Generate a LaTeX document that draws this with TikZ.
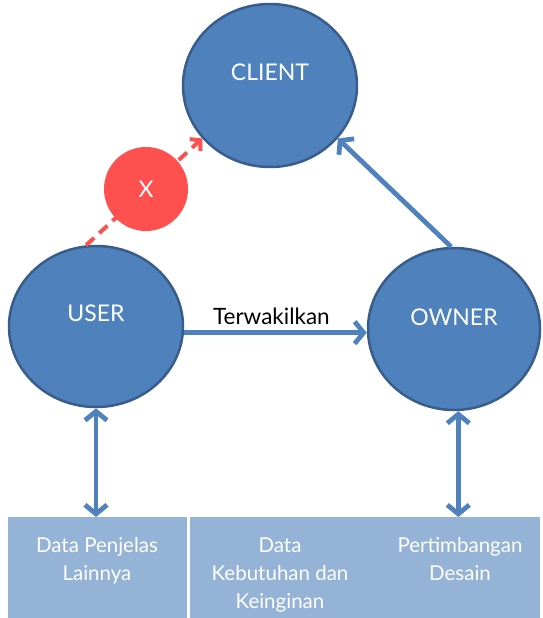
\documentclass[tikz,border=0pt]{standalone}
\usepackage{fontspec}
\setmainfont{Lato}
\usetikzlibrary{shapes.geometric,arrows.meta,calc}
\definecolor{cfill}{HTML}{4F81BD}
\definecolor{cborder}{HTML}{385D8A}
\definecolor{xred}{HTML}{FF5050}
\definecolor{boxfill}{HTML}{95B3D7}
\tikzset{
  bigc/.style={ellipse, draw=cborder, line width=2.5pt, fill=cfill, inner sep=0pt},
  clabel/.style={text=white, font=\fontsize{23}{27}\selectfont},
  conn/.style={draw=cfill, line width=4.8pt, -{Straight Barb[length=9pt,width=22pt]}},
  dconn/.style={draw=cfill, line width=4.8pt, {Straight Barb[length=9pt,width=22pt]}-{Straight Barb[length=9pt,width=22pt]}},
  reddash/.style={draw=xred, line width=4pt, dash pattern=on 11pt off 7pt, -{Straight Barb[length=7pt,width=16pt]}},
  boxr/.style={rectangle, fill=boxfill, draw=none, inner sep=0pt, anchor=north west},
  boxtext/.style={text=white, align=center, anchor=base, inner sep=0pt, font=\fontsize{20.5}{28}\selectfont},
}
\begin{document}
\begin{tikzpicture}[x=1pt,y=-1pt]
\useasboundingbox (0,0) rectangle (542,618);
% circles
\node[bigc, minimum width=174pt, minimum height=163pt,
      label={[clabel, yshift=13pt]center:CLIENT}] (client) at (270,85.5) {};
\node[bigc, minimum width=174pt, minimum height=161pt,
      label={[clabel, yshift=13pt]center:USER}] (user) at (96,326.5) {};
\node[bigc, minimum width=172pt, minimum height=162pt,
      label={[clabel, yshift=12pt]center:OWNER}] (owner) at (454,329) {};
% bottom boxes
\node[boxr, minimum width=179pt, minimum height=101pt] (boxL) at (8,517) {};
\node[boxr, minimum width=350pt, minimum height=101pt] (boxR) at (190,517) {};
\node[boxtext] (t1) at (97,580) {Data Penjelas\\Lainnya};
\node[boxtext] (t2) at (280,608) {Data\\Kebutuhan dan\\Keinginan};
\node[boxtext] (t3) at (460,580) {Pertimbangan\\Desain};
% connectors
\draw[reddash] (user.97) -- (client.218);
\node[circle, fill=xred, minimum size=84pt, inner sep=0pt, text=white,
      font=\fontsize{23}{27}\selectfont] (x) at (146,189) {X};
\draw[conn] (owner.92) -- (client.-38);
\draw[conn] (user.-4) -- (user.-4 -| owner.west)
  node[midway, above=2pt, xshift=-4pt, text=black, font=\fontsize{22.5}{27}\selectfont] (lbl) {Terwakilkan};
\draw[dconn] (user.south) -- (user.south |- boxL.north);
\draw[dconn] (owner.-87) -- (owner.-87 |- boxR.north);
\end{tikzpicture}
\end{document}
